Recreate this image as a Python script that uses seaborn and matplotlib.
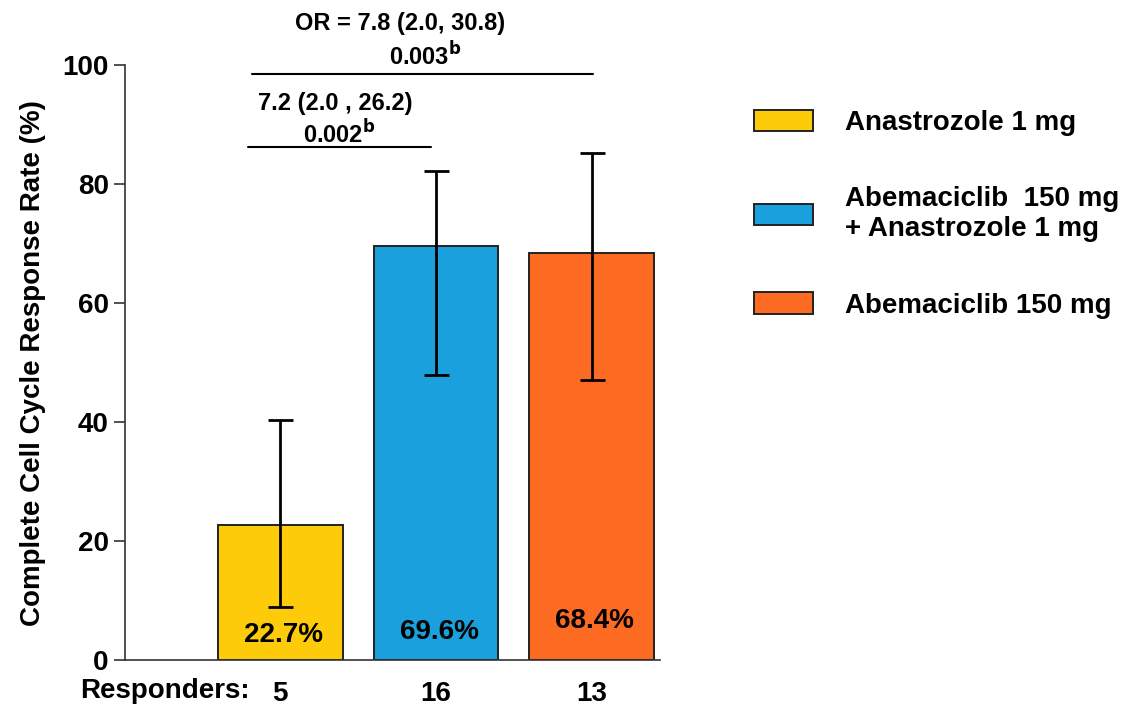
import seaborn as sns
import matplotlib.pyplot as plt
import pandas as pd
from matplotlib.patches import Patch

grupos = ["Anastrozole 1 mg", "Abemaciclib  150 mg\n+ Anastrozole 1 mg", "Abemaciclib 150 mg"]
taxas = [22.7, 69.6, 68.4]
ic_inf = [8.9, 47.9, 47.1]
ic_sup = [40.4, 82.2, 85.2]
responders = ["5", "16", "13"]
cores = ["#FDCB0A", "#1AA0DC", "#FD6A22"]

df = pd.DataFrame({"Grupo": grupos, "Taxa": taxas, "Inf": ic_inf, "Sup": ic_sup})

sns.set_theme(style="white")
plt.rcParams["font.family"] = ["Liberation Sans", "DejaVu Sans"]
plt.rcParams["font.weight"] = "bold"
plt.rcParams["text.color"] = "black"
plt.rcParams["axes.labelcolor"] = "black"
plt.rcParams["xtick.color"] = "black"
plt.rcParams["ytick.color"] = "black"

fig = plt.figure(figsize=(11.44, 7.09), dpi=100)
ax = fig.add_axes([0.109, 0.069, 0.468, 0.839])

sns.barplot(
    data=df, x="Grupo", y="Taxa", hue="Grupo",
    palette=cores, edgecolor="#222222", linewidth=1.4,
    width=0.8, legend=False, saturation=1, ax=ax
)

pos = range(len(df))
ax.errorbar(
    list(pos), df["Taxa"],
    yerr=[df["Taxa"] - df["Inf"], df["Sup"] - df["Taxa"]],
    fmt="none", ecolor="black", elinewidth=2, capsize=9, capthick=2
)

# rótulos dentro das barras
offsets = [4.2, 4.8, 6.5]
for i, (t, o) in enumerate(zip(df["Taxa"], offsets)):
    ax.text(i + 0.02, o, f"{t}%", ha="center", va="center",
            fontsize=20, weight="bold", color="black")

ax.set_xlim(-1, 2.44)
ax.set_ylim(0, 100)
ax.set_yticks([0, 20, 40, 60, 80, 100])
ax.set_xticks(list(pos))
ax.set_xticklabels(responders, fontsize=20, weight="bold")
ax.tick_params(axis="y", labelsize=20, length=8, width=1.2, color="#333333",
               direction="out", left=True)
ax.tick_params(axis="x", length=0, pad=15)
ax.set_xlabel("")
ax.set_ylabel("Complete Cell Cycle Response Rate (%)", fontsize=20,
              weight="bold", labelpad=12)
for lab in ax.get_yticklabels():
    lab.set_fontweight("bold")
sns.despine(ax=ax)
for s in ["left", "bottom"]:
    ax.spines[s].set_color("#333333")
    ax.spines[s].set_linewidth(1.2)

ax.text(-0.2, -0.03, "Responders:", transform=ax.get_xaxis_transform(),
        ha="right", va="top", fontsize=20, weight="bold")

# comparações
ax.plot([-0.18, 2.01], [98.5, 98.5], color="black", lw=1.5, clip_on=False)
ax.plot([-0.21, 0.97], [86.2, 86.2], color="black", lw=1.5, clip_on=False)
ax.text(0.77, 107.0, "OR = 7.8 (2.0, 30.8)", ha="center", va="center", fontsize=17, weight="bold")
ax.text(0.93, 101.5, r"0.003$^\mathbf{b}$", ha="center", va="center", fontsize=17, weight="bold")
ax.text(0.35, 93.5, "7.2 (2.0 , 26.2)", ha="center", va="center", fontsize=17, weight="bold")
ax.text(0.38, 88.5, r"0.002$^\mathbf{b}$", ha="center", va="center", fontsize=17, weight="bold")

handles = [Patch(facecolor=c, edgecolor="#222222", linewidth=1.4) for c in cores]
fig.legend(handles, grupos, loc="upper left", bbox_to_anchor=(0.637, 0.88),
           frameon=False, handlelength=2.15, handleheight=0.8,
           labelspacing=1.8, handletextpad=1.15, prop={"weight": "bold", "size": 20})

fig.savefig("out.png", dpi=100)
